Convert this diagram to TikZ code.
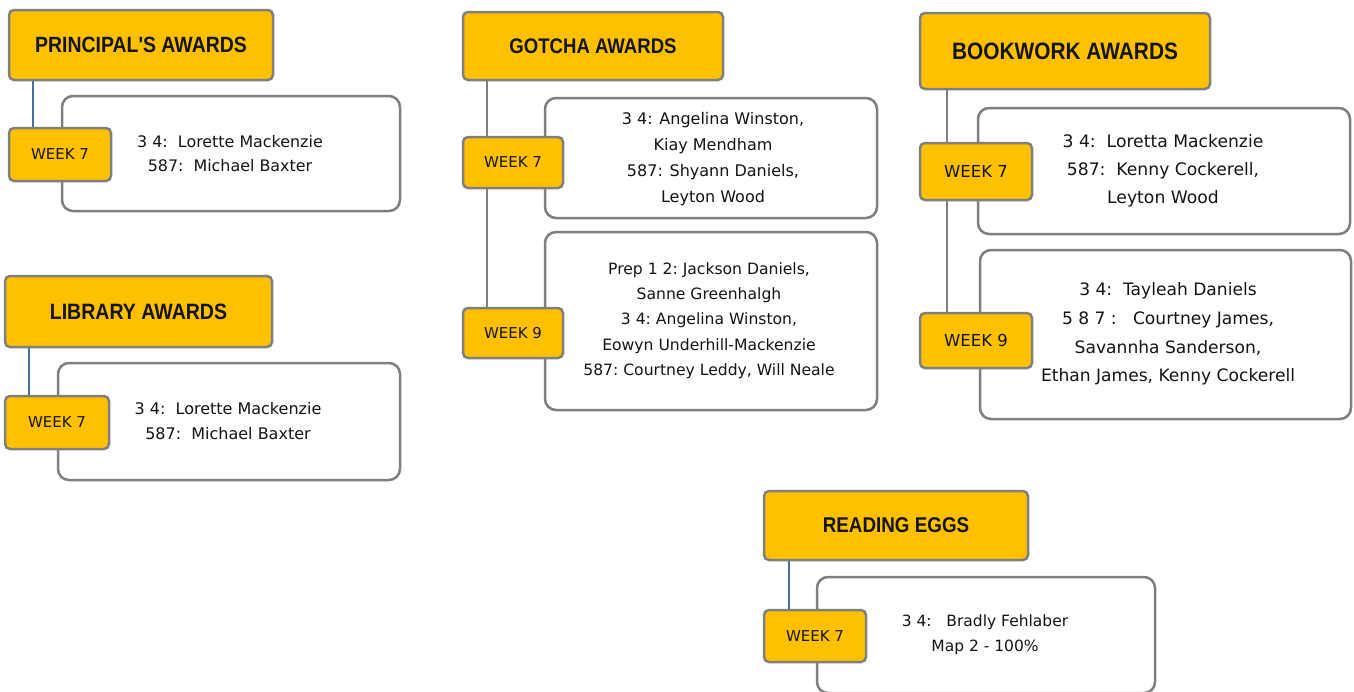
\documentclass[tikz,border=0pt]{standalone}
\usepackage{fontspec}
\setmainfont{DejaVu Sans}
\newfontfamily\ttlfont[FakeStretch=0.88]{Liberation Sans}
\definecolor{awyellow}{HTML}{FFC000}
\definecolor{awgray}{HTML}{7F7F7F}
\definecolor{awblue}{HTML}{41719C}
\definecolor{awtext}{HTML}{141414}
\tikzset{
  ttlbox/.style={draw=awgray, line width=2.5pt, fill=awyellow, rounded corners=5pt, inner sep=0pt, font=\ttlfont\bfseries, text=awtext},
  wkbox/.style={draw=awgray, line width=2.5pt, fill=awyellow, rounded corners=5pt, inner sep=0pt, font=\fontsize{15}{17}\selectfont, text=awtext},
  infobox/.style={draw=awgray, line width=2.5pt, fill=white, rounded corners=11pt, inner sep=0pt},
  infotext/.style={align=center, inner sep=0pt, text=awtext},
  blueline/.style={draw=awblue, line width=2.5pt},
  grayline/.style={draw=awgray, line width=2.5pt},
}
\begin{document}
\begin{tikzpicture}[x=1pt,y=-1pt]
\useasboundingbox[fill=white] (0,0) rectangle (1354,691);

% ---------- PRINCIPAL'S AWARDS ----------
\node[ttlbox, minimum width=264pt, minimum height=70pt, font=\ttlfont\bfseries\fontsize{22.1}{24}\selectfont] (pa) at (141,45) {PRINCIPAL'S AWARDS};
\node[infobox, minimum width=338pt, minimum height=115pt] (pab) at (231,153.5) {};
\node[wkbox, minimum width=102pt, minimum height=53pt] (paw) at (60,154.5) {WEEK 7};
\node[infotext, font=\fontsize{15.9}{24}\selectfont] (pat) at (230,154) {3 4:\ \ Lorette Mackenzie\\587:\ \ Michael Baxter};

% ---------- LIBRARY AWARDS ----------
\node[ttlbox, minimum width=267pt, minimum height=71pt, font=\ttlfont\bfseries\fontsize{22.2}{24}\selectfont] (la) at (138.5,311.5) {LIBRARY AWARDS};
\node[infobox, minimum width=342pt, minimum height=117pt] (lab) at (229,421.5) {};
\node[wkbox, minimum width=104pt, minimum height=53pt] (law) at (57,422.5) {WEEK 7};
\node[infotext, font=\fontsize{16}{25}\selectfont] (lat) at (228,421.5) {3 4:\ \ Lorette Mackenzie\\587:\ \ Michael Baxter};

% ---------- GOTCHA AWARDS ----------
\node[ttlbox, minimum width=260pt, minimum height=68pt, font=\ttlfont\bfseries\fontsize{21.1}{24}\selectfont] (ga) at (593,46) {GOTCHA AWARDS};
\node[infobox, minimum width=332pt, minimum height=120pt] (gb1) at (711,158) {};
\node[infobox, minimum width=332pt, minimum height=178pt] (gb2) at (711,321) {};
\node[wkbox, minimum width=100pt, minimum height=51pt] (gw7) at (513,162.5) {WEEK 7};
\node[wkbox, minimum width=100pt, minimum height=50pt] (gw9) at (513,333) {WEEK 9};
\node[infotext, font=\fontsize{16}{26}\selectfont] (gt1) at (713,159) {3 4: Angelina Winston,\\Kiay Mendham\\587: Shyann Daniels,\\Leyton Wood};
\node[infotext, font=\fontsize{15.6}{25.2}\selectfont] (gt2) at (709,320.5) {Prep 1 2:\ Jackson Daniels,\\Sanne Greenhalgh\\3 4:\ Angelina Winston,\\Eowyn Underhill-Mackenzie\\587:\ Courtney Leddy, Will Neale};

% ---------- BOOKWORK AWARDS ----------
\node[ttlbox, minimum width=290pt, minimum height=76pt, font=\ttlfont\bfseries\fontsize{23.7}{26}\selectfont] (ba) at (1065,51) {BOOKWORK AWARDS};
\node[infobox, minimum width=372pt, minimum height=126pt] (bb1) at (1164,171) {};
\node[infobox, minimum width=371pt, minimum height=169pt] (bb2) at (1165.5,334.5) {};
\node[wkbox, minimum width=112pt, minimum height=57pt, font=\fontsize{16.5}{18}\selectfont] (bw7) at (976,171.5) {WEEK 7};
\node[wkbox, minimum width=112pt, minimum height=55pt, font=\fontsize{16.5}{18}\selectfont] (bw9) at (976,340.5) {WEEK 9};
\node[infotext, font=\fontsize{17.2}{28}\selectfont] (bt1) at (1163,171) {3 4:\ \ Loretta Mackenzie\\587:\ \ Kenny Cockerell,\\Leyton Wood};
\node[infotext, font=\fontsize{17.1}{28.7}\selectfont] (bt2) at (1168,334) {3 4:\ \ Tayleah Daniels\\5 8 7 :\ \ \ Courtney James,\\Savannha Sanderson,\\Ethan James, Kenny Cockerell};

% ---------- READING EGGS ----------
\node[ttlbox, minimum width=264pt, minimum height=69pt, font=\ttlfont\bfseries\fontsize{21.4}{24}\selectfont] (re) at (896,525.5) {READING EGGS};
\node[infobox, minimum width=338pt, minimum height=116pt] (reb) at (986,635) {};
\node[wkbox, minimum width=102pt, minimum height=52pt] (rew) at (815,636) {WEEK 7};
\node[infotext, font=\fontsize{15.5}{25}\selectfont] (ret) at (985,634.5) {3 4:\ \ \ Bradly Fehlaber\\Map 2 - 100\%};

% ---------- connectors ----------
\draw[blueline] ([xshift=25pt]pa.south west) -- ([xshift=25pt]paw.north west);
\draw[blueline] ([xshift=25pt]la.south west) -- ([xshift=25pt]law.north west);
\draw[grayline] ([xshift=25pt]ga.south west) -- ([xshift=25pt]gw7.north west);
\draw[grayline] ([xshift=25pt]gw7.south west) -- ([xshift=25pt]gw9.north west);
\draw[grayline] ([xshift=28pt]ba.south west) -- ([xshift=28pt]bw7.north west);
\draw[grayline] ([xshift=28pt]bw7.south west) -- ([xshift=28pt]bw9.north west);
\draw[blueline] ([xshift=26pt]re.south west) -- ([xshift=26pt]rew.north west);
\end{tikzpicture}
\end{document}
